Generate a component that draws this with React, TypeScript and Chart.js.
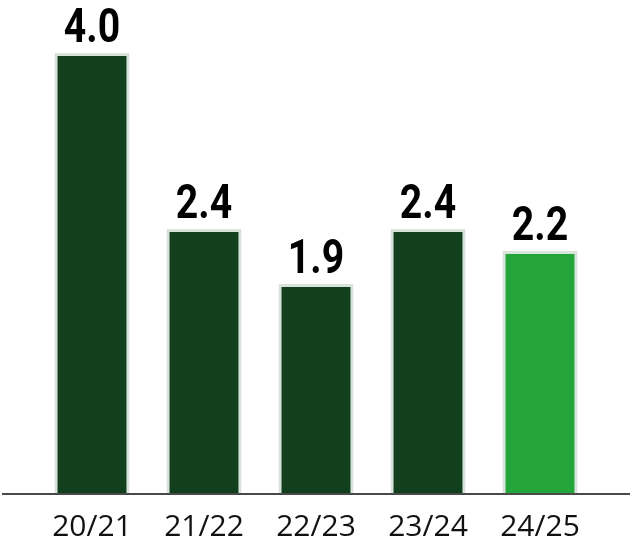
import { useEffect, useRef } from 'react';
import { Chart, registerables } from 'chart.js';

Chart.register(...registerables);

const seasons = ['20/21', '21/22', '22/23', '23/24', '24/25'];
const values = [4.0, 2.4, 1.9, 2.4, 2.2];
const barColors = ['#12401f', '#12401f', '#12401f', '#12401f', '#23a539'];

// draws the value above each bar in a condensed bold face
const valueLabels = {
  id: 'valueLabels',
  afterDatasetsDraw(chart: Chart) {
    const ctx = chart.ctx;
    const meta = chart.getDatasetMeta(0);
    ctx.save();
    ctx.fillStyle = '#000';
    ctx.font = 'bold 49px Roboto';
    ctx.textAlign = 'center';
    ctx.textBaseline = 'alphabetic';
    meta.data.forEach((bar: any, i: number) => {
      ctx.save();
      ctx.translate(bar.x, bar.y - 11);
      ctx.scale(0.8, 1);
      ctx.fillText(values[i].toFixed(1), 0, 0);
      ctx.restore();
    });
    ctx.restore();
  },
};

// baseline running the full width of the canvas
const baseLine = {
  id: 'baseLine',
  afterDatasetsDraw(chart: Chart) {
    const ctx = chart.ctx;
    const y = chart.scales.y.getPixelForValue(0);
    ctx.save();
    ctx.strokeStyle = '#4a4a4a';
    ctx.lineWidth = 2;
    ctx.beginPath();
    ctx.moveTo(2, y + 1);
    ctx.lineTo(chart.width, y + 1);
    ctx.stroke();
    ctx.restore();
  },
};

const App = () => {
  const chartRef = useRef<HTMLCanvasElement>(null);
  const chartInstance = useRef<Chart | null>(null);

  useEffect(() => {
    document.body.style.margin = '0';
    if (chartRef.current) {
      if (chartInstance.current) {
        chartInstance.current.destroy();
      }
      const ctx = chartRef.current.getContext('2d');
      if (ctx) {
        chartInstance.current = new Chart(ctx, {
          type: 'bar',
          data: {
            labels: seasons,
            datasets: [
              {
                data: values,
                backgroundColor: barColors,
                borderColor: '#d8e4da',
                borderWidth: 3,
                barPercentage: 0.67,
                categoryPercentage: 1,
              },
            ],
          },
          options: {
            animation: false,
            responsive: true,
            maintainAspectRatio: false,
            layout: {
              padding: { top: 53, left: 36, right: 34, bottom: 0 },
            },
            plugins: {
              legend: { display: false },
              tooltip: { enabled: false },
            },
            scales: {
              x: {
                grid: { display: false, drawTicks: false },
                border: { display: false },
                afterFit: (scale: any) => {
                  scale.height = 47;
                },
                ticks: {
                  color: '#111',
                  padding: 19,
                  maxRotation: 0,
                  font: { family: 'Open Sans', size: 30, lineHeight: 1 },
                },
              },
              y: {
                display: false,
                min: 0,
                max: 4,
              },
            },
          },
          plugins: [valueLabels, baseLine],
        });
      }
    }

    return () => {
      if (chartInstance.current) {
        chartInstance.current.destroy();
      }
    };
  }, []);

  return (
    <div style={{ width: 630, height: 540, position: 'relative' }}>
      <canvas ref={chartRef} />
    </div>
  );
};

export default App;
